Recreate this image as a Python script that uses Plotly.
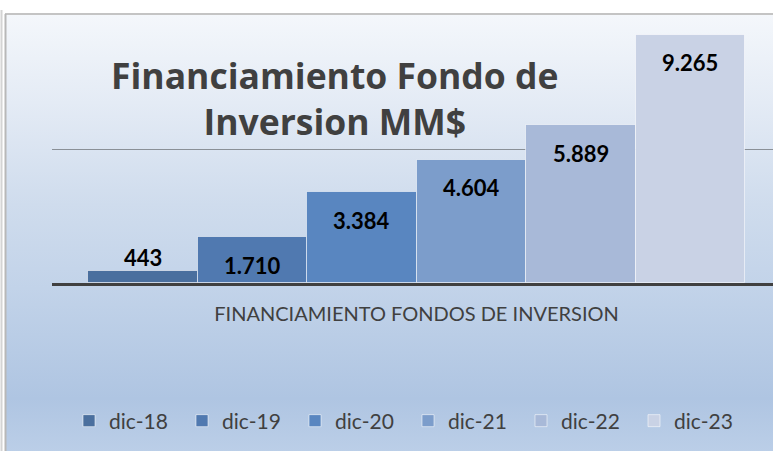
import base64
import plotly.graph_objects as go

# ---- data ----
category = "FINANCIAMIENTO FONDOS DE INVERSION"
series_names = ["dic-18", "dic-19", "dic-20", "dic-21", "dic-22", "dic-23"]
values = [443, 1710, 3384, 4604, 5889, 9265]
colors = ["#4A6F9E", "#5079B0", "#5986C0", "#7C9DCB", "#A8B9D8", "#C9D2E5"]
title_text = "Financiamiento Fondo de<br>Inversion MM$"

W, H = 773, 451
ML, MR, MT, MB = 52, 0, 15, 168
PW, PH = W - ML - MR, H - MT - MB


def px_x(p):
    return (p - ML) / PW


def px_y(p):
    return (H - MB - p) / PH


FONT = "Lato"

fig = go.Figure()
for i, (name, v, c) in enumerate(zip(series_names, values, colors)):
    fig.add_trace(go.Bar(
        x=[i], y=[v], name=name, width=1,
        marker=dict(color=c, line=dict(color="rgba(255,255,255,0.55)", width=1)),
        hoverinfo="name+y",
    ))

# data labels
for i, v in enumerate(values):
    inside = v >= 1000
    fig.add_annotation(
        x=i, y=v, xref="x", yref="y",
        text="<b>%s</b>" % f"{v:,}".replace(",", "."),
        showarrow=False, yanchor="middle",
        yshift=-28 if inside else 14,
        font=dict(family=FONT, size=22, color="#000000"),
    )

# title
fig.add_annotation(
    x=px_x(334), y=px_y(98), xref="paper", yref="paper",
    text="<b>%s</b>" % title_text, showarrow=False,
    xanchor="center", yanchor="middle",
    font=dict(family="Open Sans", size=35.5, color="#404040"),
)

# gradient background
svg = (
    '<svg xmlns="http://www.w3.org/2000/svg" width="100" height="100" preserveAspectRatio="none">'
    '<defs><linearGradient id="g" x1="0" y1="0" x2="0" y2="1">'
    '<stop offset="0" stop-color="#F4F7FB"/>'
    '<stop offset="0.2" stop-color="#E4EBF5"/>'
    '<stop offset="0.43" stop-color="#CFDCED"/>'
    '<stop offset="0.62" stop-color="#C2D3E9"/>'
    '<stop offset="0.87" stop-color="#AFC5E2"/>'
    '<stop offset="1" stop-color="#BCCFE8"/>'
    '</linearGradient></defs><rect width="100" height="100" fill="url(#g)"/></svg>'
)
src = "data:image/svg+xml;base64," + base64.b64encode(svg.encode()).decode()
fig.add_layout_image(
    source=src, xref="paper", yref="paper",
    x=px_x(6), y=px_y(14), sizex=px_x(W + 10) - px_x(6), sizey=px_y(14) - px_y(H + 5),
    xanchor="left", yanchor="top", sizing="stretch", layer="below",
)

# outer frame
fig.add_shape(type="line", xref="paper", yref="paper",
              x0=px_x(5), x1=px_x(W + 10), y0=px_y(14), y1=px_y(14),
              line=dict(color="#C4C4C4", width=2))
fig.add_shape(type="line", xref="paper", yref="paper",
              x0=px_x(5.5), x1=px_x(5.5), y0=px_y(14), y1=px_y(H + 5),
              line=dict(color="#B8B8B8", width=2))
fig.add_shape(type="line", xref="paper", yref="paper",
              x0=px_x(1.5), x1=px_x(1.5), y0=px_y(10), y1=px_y(H + 5),
              line=dict(color="#D4D4D4", width=2))

n = len(values)
fig.update_layout(
    width=W, height=H,
    margin=dict(l=ML, r=MR, t=MT, b=MB, pad=0),
    paper_bgcolor="white", plot_bgcolor="rgba(0,0,0,0)",
    barmode="overlay", bargap=0,
    showlegend=True,
    legend=dict(
        orientation="h", x=px_x(69), y=px_y(421), xanchor="left", yanchor="middle",
        font=dict(family=FONT, size=21, color="#404040"),
        entrywidth=68, entrywidthmode="pixels", itemwidth=30,
        bgcolor="rgba(0,0,0,0)", traceorder="normal",
    ),
    xaxis=dict(
        range=[-0.5 - 36 / 109.5, -0.5 + (W - 88) / 109.5],
        tickvals=[(n - 1) / 2], ticktext=[category], ticks="",
        ticklabelstandoff=11,
        tickfont=dict(family=FONT, size=20, color="#404040"),
        showline=True, linecolor="#404040", linewidth=3,
        showgrid=False, zeroline=False, fixedrange=True,
    ),
    yaxis=dict(
        range=[0, 10000], dtick=5000, showticklabels=False,
        showgrid=True, gridcolor="#8A9097", gridwidth=1,
        zeroline=False, showline=False, fixedrange=True,
    ),
)

fig.write_html(
    "out.html",
    config={"displayModeBar": False},
    post_script="document.body.style.margin='0';document.body.style.overflow='hidden';",
)
